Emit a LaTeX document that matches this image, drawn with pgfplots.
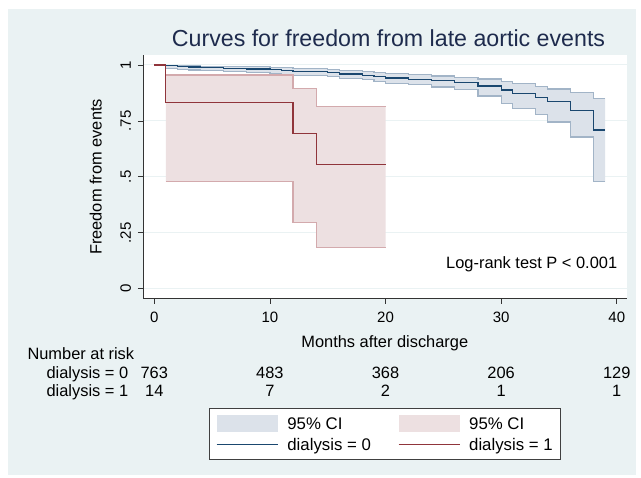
\documentclass[border=0pt]{standalone}
\usepackage{fontspec}
\setmainfont{Liberation Sans}
\usepackage{pgfplots}
\pgfplotsset{compat=1.18}
\usepackage{pgfplotstable}

\definecolor{stbg}{HTML}{EAF2F3}
\definecolor{navy}{HTML}{1A476F}
\definecolor{maroon}{HTML}{90353B}
\definecolor{cinavy}{HTML}{DCE2EA}
\definecolor{cinavyedge}{HTML}{A2B4C7}
\definecolor{cired}{HTML}{EDE0E1}
\definecolor{ciredge}{HTML}{D3AAAD}
\definecolor{titlecol}{HTML}{1E2B4D}

\newcommand\fs[1]{\fontsize{#1}{#1}\selectfont}

% Kaplan-Meier estimate with 95% CI, dialysis = 0 (CI starts at row 1)
\pgfplotstableread{
t  s     lo    hi
0  1     1     1
1  0.996 0.984 0.999
2  0.993 0.981 0.998
3  0.991 0.978 0.997
4  0.988 0.975 0.995
6  0.985 0.971 0.994
8  0.982 0.967 0.992
10 0.979 0.962 0.989
11 0.976 0.958 0.987
12 0.972 0.954 0.984
15 0.965 0.947 0.980
16 0.960 0.940 0.976
18 0.954 0.934 0.972
19 0.947 0.926 0.966
20 0.942 0.919 0.962
22 0.936 0.912 0.957
24 0.930 0.902 0.951
26 0.920 0.890 0.944
28 0.906 0.861 0.937
30 0.888 0.827 0.926
31 0.871 0.806 0.917
33 0.854 0.780 0.905
34 0.835 0.745 0.893
36 0.798 0.678 0.878
38 0.709 0.478 0.851
39 0.709 0.478 0.851
}\kmzero

% CI band outline for dialysis = 0: upper bound forward, then lower bound
% backward (each lower value paired with the end of its interval)
\pgfplotstableread{
t  y
1  0.999
2  0.998
3  0.997
4  0.995
6  0.994
8  0.992
10 0.989
11 0.987
12 0.984
15 0.980
16 0.976
18 0.972
19 0.966
20 0.962
22 0.957
24 0.951
26 0.944
28 0.937
30 0.926
31 0.917
33 0.905
34 0.893
36 0.878
38 0.851
39 0.851
39 0.478
38 0.678
36 0.745
34 0.780
33 0.806
31 0.827
30 0.861
28 0.890
26 0.902
24 0.912
22 0.919
20 0.926
19 0.934
18 0.940
16 0.947
15 0.954
12 0.958
11 0.962
10 0.967
8  0.971
6  0.975
4  0.978
3  0.981
2  0.984
1  0.984
}\bandzero

% dialysis = 1
\pgfplotstableread{
t  s     lo    hi
0  1     1     1
1  0.833 0.480 0.955
12 0.694 0.295 0.895
14 0.555 0.185 0.813
20 0.555 0.185 0.813
}\kmone

\pgfplotstableread{
t  y
1  0.955
12 0.895
14 0.813
20 0.813
20 0.185
14 0.295
12 0.480
1  0.480
}\bandone

\begin{document}
\begin{tikzpicture}[x=1pt,y=1pt]
\fill[white] (0,0) rectangle (641,478);
\fill[stbg] (8.3,3) rectangle (636,469);

\begin{axis}[
    at={(143.3pt,179.7pt)}, anchor=south west,
    scale only axis, width=483.4pt, height=243.3pt,
    xmin=-0.95, xmax=40.86, ymin=-0.043, ymax=1.0447,
    axis lines=left,
    axis line style={-, black!80, line width=0.8pt},
    axis background/.style={fill=white},
    tick align=outside, major tick length=5.5pt,
    tick style={black!80, line width=0.8pt},
    xtick={0,10,20,30,40},
    xticklabels={0,10,20,30,40},
    ytick={0,0.25,0.5,0.75,1},
    yticklabels={0,.25,.5,.75,1},
    xticklabel style={font=\fs{15}, anchor=base, yshift=-19pt},
    yticklabel style={font=\fs{15}, xshift=-7pt, rotate=90, anchor=base},
    ymajorgrids, grid style={stbg, line width=1pt},
    legend columns=2,
    legend cell align=left,
    legend style={at={(0.1365,-0.452)}, anchor=north west,
        draw=black!75, line width=0.8pt, fill=white,
        font=\fs{16.8}, inner xsep=6.5pt, inner ysep=6.5pt, row sep=4.15pt,
        nodes={inner sep=1.5pt, text height=12.5pt, text depth=1pt},
        /tikz/every odd column/.append style={column sep=7.6pt},
        /tikz/every even column/.append style={column sep=25.5pt}},
]
% CI bands
\addplot[const plot, fill=cinavy, draw=none, forget plot] table[x=t,y=y] {\bandzero};
\addplot[const plot, fill=cired, draw=none, forget plot] table[x=t,y=y] {\bandone};
% CI bounds
\addplot[const plot, cinavyedge, line width=1.2pt, forget plot,
    skip coords between index={0}{1}] table[x=t,y=hi] {\kmzero};
\addplot[const plot, cinavyedge, line width=1.2pt, forget plot,
    skip coords between index={0}{1}] table[x=t,y=lo] {\kmzero};
\addplot[const plot, ciredge, line width=1.2pt, forget plot,
    skip coords between index={0}{1}] table[x=t,y=hi] {\kmone};
\addplot[const plot, ciredge, line width=1.2pt, forget plot,
    skip coords between index={0}{1}] table[x=t,y=lo] {\kmone};
% survivor functions
\addplot[const plot, navy, line width=1.2pt, forget plot] table[x=t,y=s] {\kmzero};
\addplot[const plot, maroon, line width=1.2pt, forget plot] table[x=t,y=s] {\kmone};

\addlegendimage{legend image code/.code={\fill[fill=cinavy, draw=none] (0pt,-8.5pt) rectangle (61pt,8.5pt);}}
\addlegendentry{95\% CI}
\addlegendimage{legend image code/.code={\fill[fill=cired, draw=none] (0pt,-8.5pt) rectangle (61pt,8.5pt);}}
\addlegendentry{95\% CI}
\addlegendimage{legend image code/.code={\draw[draw=navy, line width=1.1pt] (0pt,0pt) -- (61pt,0pt);}}
\addlegendentry{dialysis = 0}
\addlegendimage{legend image code/.code={\draw[draw=maroon, line width=1.1pt] (0pt,0pt) -- (61pt,0pt);}}
\addlegendentry{dialysis = 1}
\end{axis}

\node[anchor=base, font=\fs{23.2}, text=titlecol] at (388.5,431) {Curves for freedom from late aortic events};
\node[rotate=90, anchor=base, font=\fs{16.4}] at (101.7,301) {Freedom from events};
\node[anchor=base, font=\fs{16.4}] at (384.8,130) {Months after discharge};
\node[anchor=base west, font=\fs{16.4}] at (442.7,209.7) {Log-rank test P < 0.001};

% number at risk table
\node[anchor=base west, font=\fs{16.4}] at (24,118) {Number at risk};
\node[anchor=base east, font=\fs{16.4}] at (131.7,99.3) {dialysis = 0};
\node[anchor=base east, font=\fs{16.4}] at (131.7,81) {dialysis = 1};
\foreach \x/\a/\b in {0/763/14, 1/483/7, 2/368/2, 3/206/1, 4/129/1} {
    \node[anchor=base, font=\fs{16.4}] at (154.3+115.6*\x,99.3) {\a};
    \node[anchor=base, font=\fs{16.4}] at (154.3+115.6*\x,81) {\b};
}
\end{tikzpicture}
\end{document}
